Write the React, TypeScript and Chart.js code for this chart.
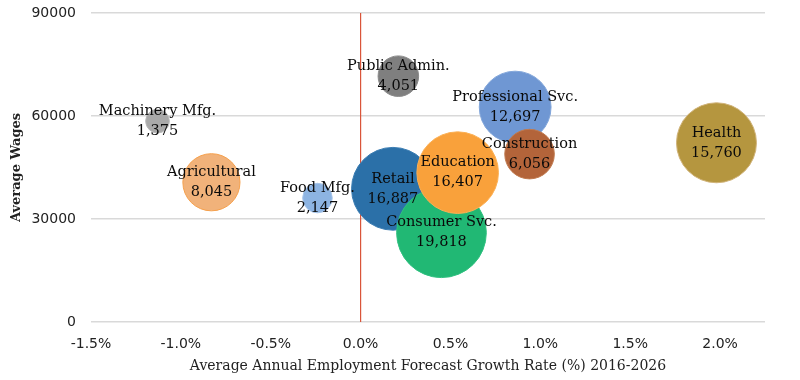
import { useEffect, useRef } from 'react';
import { Chart, registerables } from 'chart.js';

Chart.register(...registerables);

const sectors = ['Machinery Mfg.', 'Agricultural', 'Food Mfg.', 'Public Admin.', 'Retail', 'Consumer Svc.', 'Education', 'Professional Svc.', 'Construction', 'Health'];
const growthRate = [-1.13, -0.83, -0.24, 0.21, 0.18, 0.45, 0.54, 0.86, 0.94, 1.98];
const avgWages = [58500, 40700, 36100, 71600, 38800, 26000, 43500, 62600, 48900, 52200];
const employment = [1375, 8045, 2147, 4051, 16887, 19818, 16407, 12697, 6056, 15760];

const xMin = -1.5;
const xMax = 2.25;
const xStep = 0.5;
const yMin = 0;
const yMax = 90000;
const yStep = 30000;

const fillColors = ['#a9a9a9', '#f1b27a', '#8db4e2', '#7f7f7f', '#2b70a8', '#21b874', '#f9a13b', '#6f97d3', '#b3643a', '#b5963f'];
const borderColors = ['#b8b8b8', '#f5a04c', '#a7c5ea', '#8a8a8a', '#3a7cb2', '#30c080', '#fbb055', '#82a6da', '#c07a4f', '#d0b37a'];

const BUBBLE_SCALE = 0.3186;

const serif = '"DejaVu Serif", serif';
const sans = '"DejaVu Sans", sans-serif';

export default function App() {
  const ref = useRef<HTMLCanvasElement | null>(null);

  useEffect(() => {
    document.body.style.margin = '0';
    const canvas = ref.current;
    if (!canvas) return;

    const zeroLine = {
      id: 'zeroLine',
      beforeDatasetsDraw(chart: any) {
        const { ctx, chartArea, scales } = chart;
        const x = scales.x.getPixelForValue(0);
        ctx.save();
        ctx.strokeStyle = '#d9553a';
        ctx.lineWidth = 1.2;
        ctx.beginPath();
        ctx.moveTo(x, chartArea.top);
        ctx.lineTo(x, chartArea.bottom);
        ctx.stroke();
        ctx.restore();
      },
    };

    const bubbleLabels = {
      id: 'bubbleLabels',
      afterDatasetsDraw(chart: any) {
        const { ctx } = chart;
        const meta = chart.getDatasetMeta(0);
        ctx.save();
        ctx.fillStyle = '#0a0a0a';
        ctx.font = `14.5px ${serif}`;
        ctx.textAlign = 'center';
        ctx.textBaseline = 'middle';
        meta.data.forEach((el: any, i: number) => {
          ctx.fillText(sectors[i], el.x, el.y - 10);
          ctx.fillText(employment[i].toLocaleString('en-US'), el.x, el.y + 10);
        });
        ctx.restore();
      },
    };

    const chart = new Chart(canvas, {
      type: 'bubble',
      data: {
        datasets: [
          {
            label: 'Sectors',
            data: sectors.map((_, i) => ({ x: growthRate[i], y: avgWages[i], r: Math.sqrt(employment[i]) * BUBBLE_SCALE })),
            backgroundColor: fillColors,
            borderColor: borderColors,
            borderWidth: 1,
            clip: false,
          },
        ],
      },
      options: {
        responsive: false,
        animation: false,
        layout: { autoPadding: false, padding: { left: 0, right: 35, top: 13, bottom: 0 } },
        plugins: {
          legend: { display: false },
          tooltip: { enabled: false },
        },
        scales: {
          x: {
            type: 'linear',
            min: xMin,
            max: xMax,
            grid: { display: false, drawTicks: false },
            border: { display: false },
            ticks: {
              stepSize: xStep,
              includeBounds: false,
              padding: 14,
              color: '#222',
              font: { family: sans, size: 14 },
              maxRotation: 0,
              autoSkip: false,
              callback: (v: any) => {
                const n = Number(v);
                if (Math.abs(n / xStep - Math.round(n / xStep)) > 1e-6) return '';
                return n.toFixed(1) + '%';
              },
            },
            title: {
              display: true,
              text: 'Average Annual Employment Forecast Growth Rate (%) 2016-2026',
              color: '#222',
              font: { family: serif, size: 14 },
              padding: { top: 0, bottom: 5 },
            },
            afterFit: (s: any) => {
              s.height = 58;
              s.paddingLeft = 0;
              s.paddingRight = 0;
            },
          },
          y: {
            type: 'linear',
            min: yMin,
            max: yMax,
            grid: { color: '#d9d9d9', lineWidth: 1.5, drawTicks: false },
            border: { display: false },
            ticks: {
              stepSize: yStep,
              padding: 15,
              color: '#222',
              font: { family: sans, size: 14 },
              callback: (v: any) => String(v),
            },
            title: {
              display: true,
              text: 'Average Wages',
              color: '#222',
              font: { family: serif, size: 13, weight: 'bold' },
              padding: { top: 9, bottom: 0 },
            },
            afterFit: (s: any) => {
              s.width = 91;
              s.paddingTop = 0;
              s.paddingBottom = 0;
            },
          },
        },
      },
      plugins: [zeroLine, bubbleLabels],
    } as any);

    return () => chart.destroy();
  }, []);

  return (
    <div style={{ width: 800, height: 380 }}>
      <canvas ref={ref} width={800} height={380} style={{ display: 'block' }} />
    </div>
  );
}
